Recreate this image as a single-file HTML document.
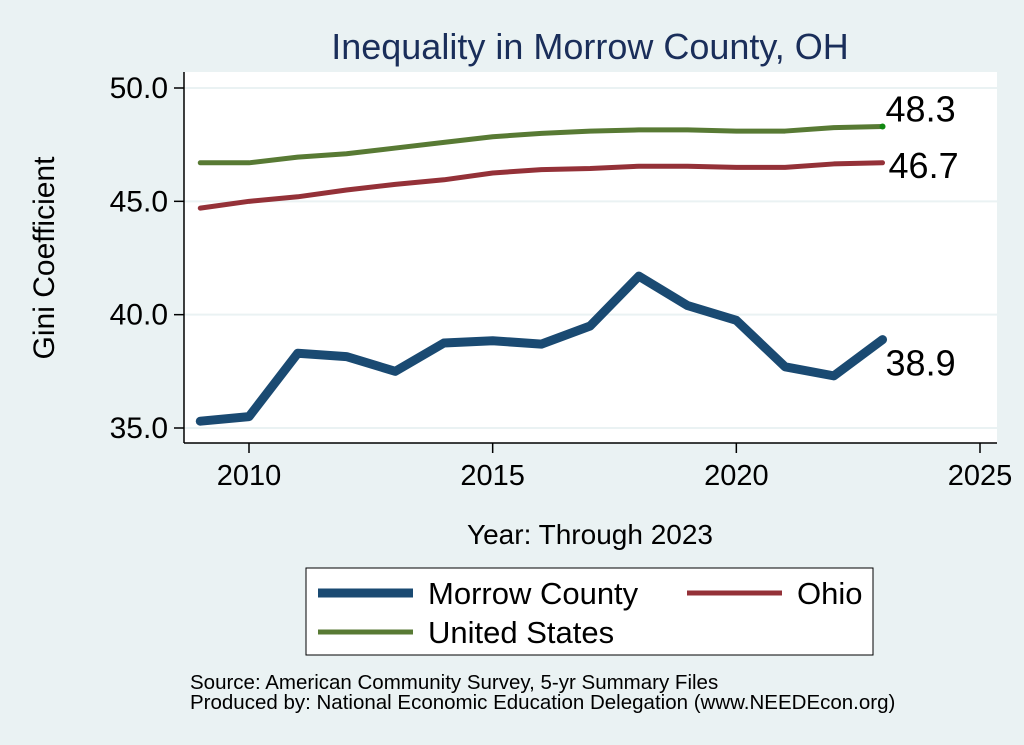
<!DOCTYPE html>
<html><head><meta charset="utf-8"><style>
body{margin:0;background:#eaf2f3;}
svg{display:block;font-family:"Liberation Sans",Arial,sans-serif;}
</style></head><body>
<svg width="1024" height="745" viewBox="0 0 1024 745">
<rect x="0" y="0" width="1024" height="745" fill="#eaf2f3"/>
<text x="590" y="59" font-size="36" fill="#1a2e5a" text-anchor="middle">Inequality in Morrow County, OH</text>
<rect x="184" y="72" width="813" height="371" fill="#ffffff"/>
<g id="grid"></g>
<g id="axes"></g>
<g id="series"></g>
<text transform="translate(54,258) rotate(-90)" font-size="30" text-anchor="middle" fill="#000">Gini Coefficient</text>
<text x="590" y="544" font-size="28" text-anchor="middle" fill="#000">Year: Through 2023</text>
<g>
<rect x="306" y="568" width="567" height="87" fill="#ffffff" stroke="#000" stroke-width="1"/>
<g><line x1="318" y1="593" x2="413" y2="593" stroke="#1a4a72" stroke-width="9"/><text x="428" y="604" font-size="31">Morrow County</text></g>
<g><line x1="687" y1="593" x2="782" y2="593" stroke="#943138" stroke-width="5"/><text x="797" y="604" font-size="31">Ohio</text></g>
<g><line x1="318" y1="632" x2="413" y2="632" stroke="#587a34" stroke-width="5"/><text x="428" y="643" font-size="31">United States</text></g>
</g>
<text x="190" y="689" font-size="20.5">Source: American Community Survey, 5-yr Summary Files</text>
<text x="190" y="709" font-size="20.5">Produced by: National Economic Education Delegation (www.NEEDEcon.org)</text>
</svg>
<script>
const years=[2009,2010,2011,2012,2013,2014,2015,2016,2017,2018,2019,2020,2021,2022,2023];
const morrow=[35.3,35.5,38.3,38.15,37.5,38.75,38.85,38.7,39.5,41.7,40.4,39.75,37.7,37.3,38.9];
const ohio=[44.7,45.0,45.2,45.5,45.75,45.95,46.25,46.4,46.45,46.55,46.55,46.5,46.5,46.65,46.7];
const us=[46.7,46.7,46.95,47.1,47.35,47.6,47.85,48.0,48.1,48.15,48.15,48.1,48.1,48.25,48.3];
const yTicks=[35,40,45,50];
const xTicks=[2010,2015,2020,2025];
const ns="http://www.w3.org/2000/svg";
const X=v=>249+(v-2010)*(980-249)/15;
const Y=v=>428-(v-35)*(428-88)/15;
function mk(t,a,p){const e=document.createElementNS(ns,t);for(const k in a)e.setAttribute(k,a[k]);p.appendChild(e);return e;}
const grid=document.getElementById('grid'),axes=document.getElementById('axes'),series=document.getElementById('series');
yTicks.forEach(t=>{
const g=mk('line',{x1:184,x2:997,y1:Y(t),y2:Y(t),stroke:'#eaf2f3','stroke-width':2},grid);


mk('line',{x1:174,x2:184,y1:Y(t),y2:Y(t),stroke:'#000','stroke-width':1.5},axes);
const l=mk('text',{x:168,y:Y(t)+10,'font-size':30,'text-anchor':'end'},axes);
l.textContent=t.toFixed(1);


});
xTicks.forEach(t=>{
mk('line',{x1:X(t),x2:X(t),y1:443,y2:453,stroke:'#000','stroke-width':1.5},axes);
const l=mk('text',{x:X(t),y:485,'font-size':29,'text-anchor':'middle'},axes);
l.textContent=t;


});
mk('line',{x1:184,x2:184,y1:72,y2:443,stroke:'#000','stroke-width':1.5},axes);
mk('line',{x1:184,x2:997,y1:443,y2:443,stroke:'#000','stroke-width':1.5},axes);
function line(d,c,w,name){
const p=mk('polyline',{points:d.map((v,i)=>X(years[i])+','+Y(v)).join(' '),fill:'none',stroke:c,'stroke-width':w,'stroke-linejoin':'round','stroke-linecap':'round'},series);


}
line(us,'#587a34',5,'line-us');
line(ohio,'#943138',5,'line-ohio');
line(morrow,'#1a4a72',9,'line-morrow');
const last=years.length-1;
const dot=mk('circle',{cx:X(years[last]),cy:Y(us[last]),r:3,fill:'#118811'},series);


[[us,-5,'label-us'],[ohio,+15,'label-ohio'],[morrow,+36,'label-morrow']].forEach(([d,dy,n],k)=>{
const t=mk('text',{x:X(years[last])+(k==1?6:3),y:Y(d[last])+dy,'font-size':36},series);
t.textContent=d[last].toFixed(1);


});
</script>
</body></html>
